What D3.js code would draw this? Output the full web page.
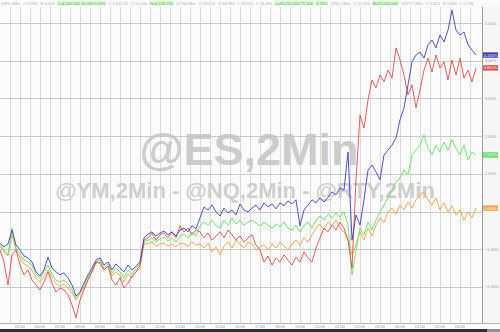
<!DOCTYPE html>
<html>
<head>
<meta charset="utf-8">
<script src="https://cdn.jsdelivr.net/npm/d3@7"></script>
<style>
  html, body { margin: 0; padding: 0; background: #fff; }
  svg { display: block; font-family: "Liberation Sans", Arial, sans-serif; }
</style>
</head>
<body>
<svg id="chart"></svg>
<script>
// % change series, one value per sample (left to right)
const blueVals = [
  -0.84,-0.94,-0.86,-0.49,-0.89,-1.02,-1.18,-1.23,-1.34,-1.60,
  -1.71,-1.55,-1.21,-1.50,-1.60,-1.68,-1.63,-1.76,-1.95,-2.24,
  -2.14,-1.90,-1.68,-1.50,-1.29,-1.23,-1.42,-1.34,-1.55,-1.39,
  -1.50,-1.60,-1.42,-1.55,-1.45,-1.34,-0.70,-0.60,-0.54,-0.65,
  -0.57,-0.52,-0.62,-0.54,-0.65,-0.49,-0.44,-0.54,-0.38,-0.46,
  -0.17,0.12,0.04,0.17,-0.01,-0.12,0.09,-0.04,0.04,-0.09,
  0.20,0.04,-0.01,0.09,0.17,0.04,0.23,0.12,0.20,0.07,
  0.23,0.15,0.28,0.20,0.31,-0.38,0.04,0.17,0.31,0.23,
  0.36,0.25,0.38,0.52,0.44,0.62,0.57,1.58,-0.76,-0.09,
  -0.36,0.31,1.10,1.23,1.05,0.84,1.50,1.63,1.76,1.95,
  2.43,2.75,3.36,3.97,4.15,4.23,4.07,4.42,4.55,4.34,
  4.68,4.50,4.81,5.34,4.81,4.68,4.76,4.42,4.28,4.15
];
const redVals = [
  -1.02,-1.34,-1.95,-1.15,-1.02,-1.42,-1.68,-1.55,-1.82,-1.95,
  -2.08,-1.87,-1.60,-1.90,-2.14,-2.03,-2.08,-2.21,-2.48,-2.82,
  -2.35,-2.08,-1.82,-1.60,-1.34,-1.37,-1.55,-1.45,-1.82,-1.95,
  -1.76,-2.03,-1.90,-1.71,-1.60,-1.42,-0.76,-0.70,-0.57,-0.76,
  -0.62,-0.57,-0.70,-0.54,-0.70,-0.38,-0.54,-0.44,-0.62,-0.49,
  -0.54,-0.70,-0.57,-0.76,-0.65,-0.54,-0.70,-0.49,-0.62,-0.76,
  -0.65,-0.81,-0.70,-0.62,-0.89,-1.02,-1.34,-1.18,-1.42,-1.23,
  -1.34,-1.15,-1.29,-1.42,-1.21,-1.34,-1.07,-1.23,-1.34,-0.97,
  -0.70,-0.44,-0.54,-0.36,-0.49,-0.28,-0.44,-0.76,-1.50,0.84,
  2.56,2.21,2.96,3.49,3.28,3.62,3.44,3.75,3.54,4.34,
  4.02,3.62,3.09,3.36,2.75,3.22,3.75,4.07,3.70,4.15,
  3.81,3.97,3.49,4.02,3.62,4.07,3.54,3.75,3.44,3.81
];
const greenVals = [
  -0.89,-1.02,-1.15,-0.44,-0.97,-1.13,-1.29,-1.34,-1.42,-1.66,
  -1.76,-1.60,-1.42,-1.66,-1.82,-1.87,-1.82,-1.92,-2.08,-2.29,
  -2.14,-1.95,-1.74,-1.55,-1.34,-1.29,-1.50,-1.39,-1.63,-1.50,
  -1.60,-1.76,-1.55,-1.66,-1.50,-1.39,-0.81,-0.76,-0.70,-0.81,
  -0.73,-0.68,-0.78,-0.70,-0.81,-0.65,-0.60,-0.70,-0.54,-0.65,
  -0.38,-0.28,-0.36,-0.23,-0.38,-0.44,-0.23,-0.36,-0.17,-0.33,
  -0.23,-0.36,-0.28,-0.23,-0.31,-0.38,-0.28,-0.36,-0.44,-0.33,
  -0.41,-0.28,-0.44,-0.49,-0.36,-0.54,-0.38,-0.28,-0.44,-0.23,
  -0.12,-0.23,-0.07,-0.17,-0.04,-0.15,-0.01,-0.36,-1.68,-1.02,
  -0.44,-0.62,-0.28,-0.49,-0.23,-0.01,0.17,0.36,0.57,0.78,
  0.89,1.10,0.97,1.50,1.63,1.76,2.03,1.68,1.50,1.76,
  1.58,1.84,1.63,1.90,1.68,1.50,1.76,1.37,1.58,1.50
];
const orangeVals = [
  -0.92,-1.07,-1.18,-0.62,-1.02,-1.23,-1.39,-1.45,-1.55,-1.76,
  -1.87,-1.71,-1.55,-1.76,-1.92,-1.98,-1.92,-2.03,-2.16,-2.35,
  -2.19,-2.03,-1.79,-1.60,-1.37,-1.34,-1.55,-1.45,-1.71,-1.60,
  -1.71,-1.87,-1.66,-1.76,-1.60,-1.50,-0.86,-0.86,-0.81,-0.92,
  -0.86,-0.84,-0.92,-0.86,-0.94,-0.84,-0.86,-0.92,-0.81,-0.89,
  -0.86,-0.97,-0.84,-1.07,-0.94,-1.15,-0.92,-0.81,-0.97,-0.76,
  -0.86,-0.97,-0.81,-0.86,-1.02,-0.94,-0.89,-1.02,-0.86,-0.97,
  -0.81,-0.92,-1.02,-0.86,-0.76,-0.89,-0.70,-0.81,-0.62,-0.44,
  -0.33,-0.49,-0.28,-0.38,-0.23,-0.44,-0.54,-0.76,-1.15,-0.89,
  -0.54,-0.76,-0.44,-0.65,-0.36,-0.17,-0.28,-0.01,0.09,-0.07,
  0.17,0.04,0.25,0.09,0.31,0.44,0.52,0.31,0.17,0.36,
  0.04,0.23,-0.01,0.15,-0.09,0.04,-0.23,-0.01,-0.17,0.09
];

const timeLabels = [
  "05:00","06:00","07:00","08:00","09:00","10:00","11:00","12:00",
  "13:00","14:00","15:00","16:00","17:00","18:00","19:00","20:00",
  "21:00","22:00","23:00","00:00","01:00","02:00","03:00"
];
const pctTicks = [5, 4, 3, 2, 1, 0, -1, -2];
const headerItems = [
  ["@ES 2Min", false], ["O 3,992", false], ["H 4,001", false],
  ["L=4,000,000 10,000 0.00%", true], ["C 4,011.25", false], ["V 10,246", false],
  ["H=4,028,750", true], ["@YM 2Min", false], ["O 33,210", false], ["H 33,480", false],
  ["L 33,020", false], ["C 33,390", false], ["L=33,210,000 75,000", true], ["0.23%", true],
  ["@NQ 2Min", false], ["O 12,410", false], ["H=25,000,000", true],
  ["@RTY 2Min", false], ["O 1,812", false], ["H 1,840", false], ["L 1,798", false]
];

const series = [
  { name: "@NQ", vals: blueVals, color: "#3d3db8" },
  { name: "@RTY", vals: redVals, color: "#dc4c4c" },
  { name: "@ES", vals: greenVals, color: "#63e063" },
  { name: "@YM", vals: orangeVals, color: "#f0a04a" }
];

const W = 500, H = 332;
const plotTop = 7, plotBottom = 323, plotRight = 482;

const svg = d3.select("#chart").attr("width", W).attr("height", H);

svg.append("rect").attr("width", W).attr("height", H).attr("fill", "#fbfbfb");

const x = d3.scaleLinear().domain([0, 120]).range([0, 480]);
const y = d3.scaleLinear().domain([0, 5]).range([211.5, 23]);

// vertical grid (every half label step)
const vGrid = d3.range(2.5, 120, 2.5);
svg.append("g").selectAll("line").data(vGrid).enter().append("line")
  .attr("x1", d => Math.round(x(d)) + 0.5).attr("x2", d => Math.round(x(d)) + 0.5)
  .attr("y1", plotTop).attr("y2", plotBottom)
  .attr("stroke", "#dadada").attr("stroke-width", 1);

// horizontal grid
svg.append("g").selectAll("line").data(pctTicks).enter().append("line")
  .attr("x1", 0).attr("x2", plotRight)
  .attr("y1", d => Math.round(y(d)) + 0.5).attr("y2", d => Math.round(y(d)) + 0.5)
  .attr("stroke", "#c9c9c9").attr("stroke-width", 1);

// watermark
svg.append("text")
  .attr("x", 249).attr("y", 165)
  .attr("text-anchor", "middle")
  .attr("font-size", 45).attr("font-weight", "bold")
  .attr("fill", "#c4c4c4").attr("fill-opacity", 0.85)
  .text("@ES,2Min");
svg.append("text")
  .attr("x", 245).attr("y", 198)
  .attr("text-anchor", "middle")
  .attr("font-size", 22).attr("font-weight", "bold")
  .attr("fill", "#c8c8c8").attr("fill-opacity", 0.85)
  .text("@YM,2Min - @NQ,2Min - @RTY,2Min");

// lines
const line = d3.line().x((d, i) => x(i)).y(d => y(d));
svg.append("g").selectAll("path").data(series.slice().reverse()).enter().append("path")
  .attr("d", d => line(d.vals))
  .attr("fill", "none")
  .attr("stroke", d => d.color)
  .attr("stroke-width", 0.9)
  .attr("stroke-linejoin", "round");

// right axis
svg.append("rect").attr("x", plotRight).attr("y", 0).attr("width", W - plotRight).attr("height", plotBottom)
  .attr("fill", "#f6f6f6");
svg.append("line").attr("x1", plotRight + 0.5).attr("x2", plotRight + 0.5)
  .attr("y1", 0).attr("y2", plotBottom).attr("stroke", "#9a9a9a");

const lastYs = series.map(s => y(s.vals[s.vals.length - 1]));
svg.append("g").selectAll("text")
  .data(pctTicks.filter(t => lastYs.every(ly => Math.abs(ly - y(t)) > 5)))
  .enter().append("text")
  .attr("x", 485).attr("y", d => y(d) + 1.5)
  .attr("font-size", 4).attr("fill", "#999")
  .text(d => d3.format(".2f")(d) + "%");

// last-value tags
const tags = svg.append("g").selectAll("g").data(series).enter().append("g")
  .attr("transform", d => `translate(483,${y(d.vals[d.vals.length - 1])})`);
tags.append("rect").attr("x", 0).attr("y", -2.7).attr("width", 15).attr("height", 5.4)
  .attr("fill", d => d.color);
tags.append("text").attr("x", 7.5).attr("y", 1.5).attr("text-anchor", "middle")
  .attr("font-size", 4).attr("fill", "#fff")
  .text(d => d3.format(".3f")(d.vals[d.vals.length - 1]) + "%");

// bottom axis
svg.append("line").attr("x1", 0).attr("x2", W).attr("y1", plotBottom + 0.5).attr("y2", plotBottom + 0.5)
  .attr("stroke", "#b5b5b5");
svg.append("g").selectAll("text").data(timeLabels).enter().append("text")
  .attr("x", (d, i) => x((i + 1) * 5)).attr("y", 327.5)
  .attr("text-anchor", "middle").attr("font-size", 4).attr("fill", "#999")
  .text(d => d);
svg.append("rect").attr("x", 0).attr("y", 329).attr("width", W).attr("height", 3).attr("fill", "#2e3236");
svg.append("rect").attr("x", 487).attr("y", 329).attr("width", 13).attr("height", 3).attr("fill", "#8a9096");

// header strip
const header = svg.append("g");
header.append("rect").attr("width", W).attr("height", plotTop).attr("fill", "#fbfbfb");
let hx = 1;
headerItems.forEach(([label, hot]) => {
  const t = header.append("text").attr("x", hx).attr("y", 4.5)
    .attr("font-size", 4).attr("fill", hot ? "#3fb83f" : "#b0b0b0").text(label);
  const w = t.node().getComputedTextLength();
  if (hx + w > 478) { t.attr("font-size", 3.2); }
  if (hot) {
    header.insert("rect", "text").attr("x", hx - 0.5).attr("y", 0.5).attr("width", w + 1).attr("height", 5)
      .attr("fill", "#dff5d9");
  }
  hx += w + 3;
});
</script>
</body>
</html>
